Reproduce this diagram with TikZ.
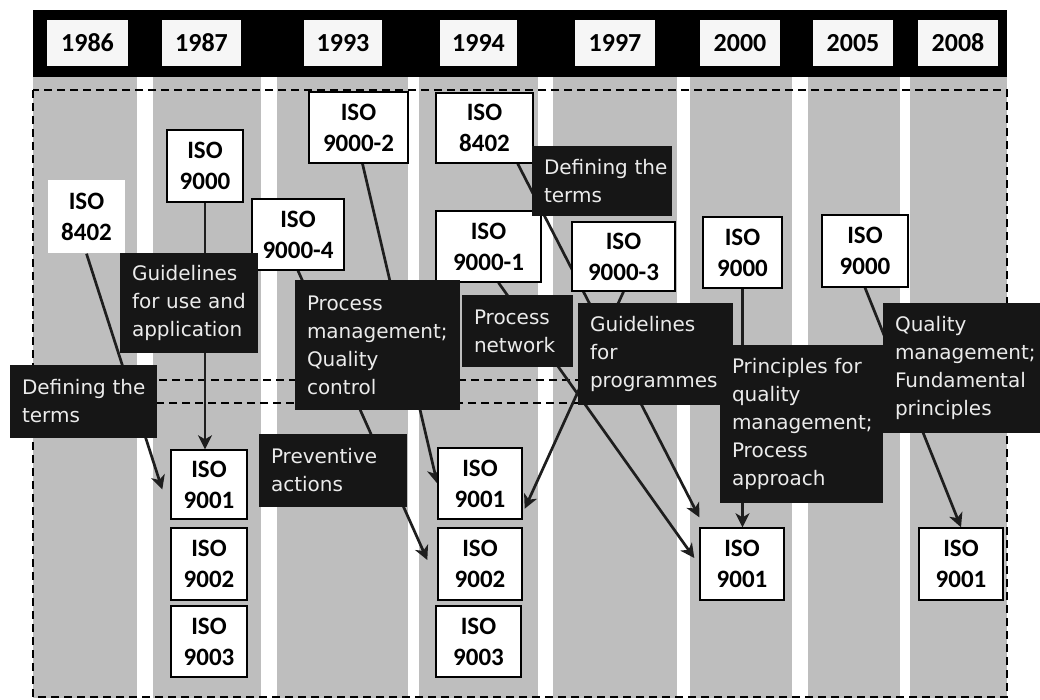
\documentclass[tikz,border=0pt]{standalone}
\usepackage{fontspec}
\setmainfont{Carlito}
\newfontfamily\lblfont{DejaVu Sans}
\usetikzlibrary{arrows.meta,calc}
\pgfdeclarelayer{bgl}
\pgfdeclarelayer{lnl}
\pgfsetlayers{bgl,lnl,main}
\definecolor{colgray}{RGB}{190,190,190}
\definecolor{boxblack}{RGB}{22,22,22}
\definecolor{lncol}{RGB}{30,30,30}
\definecolor{lbltext}{RGB}{235,235,235}
\definecolor{yearfill}{RGB}{246,246,246}
\tikzset{
  isobox/.style={draw=black, line width=1.4pt, fill=white, inner sep=0pt, align=center, font=\fontsize{25}{31}\selectfont\bfseries},
  yearbox/.style={fill=yearfill, inner sep=0pt, font=\fontsize{26}{30}\selectfont\bfseries},
  lblbox/.style={fill=boxblack, text=lbltext, inner xsep=12pt, inner ysep=0pt, align=left, font=\lblfont\fontsize{20}{28}\selectfont},
  conn/.style={draw=lncol, line width=2.7pt, -{Stealth[length=14pt,width=14pt,inset=4pt]}},
  band/.style={draw=black, line width=1.3pt, dash pattern=on 8pt off 5pt},
}
% name, x1, y1, x2, y2, text
\newcommand\isob[7][]{\node[isobox,#1, minimum width={#5-#3}, minimum height={#6-#4}] (#2) at ({(#3+#5)/2},{(#4+#6)/2}) {#7};}
\newcommand\yearb[6]{\node[yearbox, minimum width={#4-#2}, minimum height={#5-#3}] (#1) at ({(#2+#4)/2},{(#3+#5)/2}) {#6};}
% name, x1, y1, x2, y2, textwidth, text
\newcommand\lbx[7]{\node[lblbox, minimum width={#4-#2}, minimum height={#5-#3}, text width=#6pt] (#1) at ({(#2+#4)/2},{(#3+#5)/2}) {#7};}
\begin{document}
\begin{tikzpicture}[x=1pt,y=-1pt]
\useasboundingbox (0,0) rectangle (1040,700);
\begin{pgfonlayer}{bgl}
\fill[white] (0,0) rectangle (1040,700);
\foreach \a/\b in {33/137,153/261,277/408,419/538,553/677,690/792,808/900,910/1007}
  \fill[colgray] (\a,77) rectangle (\b,698);
\fill[black] (33,10) rectangle (1007,77);
\draw[band] (33,90) rectangle (1007,380);
\draw[band] (33,403) rectangle (1007,697);
\end{pgfonlayer}

% years
\yearb{y1986}{47}{20}{128}{66}{1986}
\yearb{y1987}{162}{20}{241}{66}{1987}
\yearb{y1993}{304}{20}{382}{66}{1993}
\yearb{y1994}{440}{20}{517}{66}{1994}
\yearb{y1997}{575}{20}{655}{66}{1997}
\yearb{y2000}{700}{20}{780}{66}{2000}
\yearb{y2005}{813}{20}{893}{66}{2005}
\yearb{y2008}{918}{20}{998}{66}{2008}

% upper ISO boxes
\isob[draw=none]{a8402}{48}{180}{125}{253}{ISO\\8402}
\isob{a9000}{167}{130}{243}{202}{ISO\\9000}
\isob{a90004}{252}{199}{344}{270}{ISO\\9000-4}
\isob{a90002}{309}{92}{408}{163}{ISO\\9000-2}
\isob{b8402}{436}{93}{533}{163}{ISO\\8402}
\isob{b90001}{436}{211}{541}{282}{ISO\\9000-1}
\isob{b90003}{572}{222}{675}{291}{ISO\\9000-3}
\isob{c9000}{703}{217}{782}{288}{ISO\\9000}
\isob{d9000}{822}{215}{908}{287}{ISO\\9000}

% lower ISO boxes
\isob{a9001}{171}{450}{247}{519}{ISO\\9001}
\isob{a9002}{171}{528}{247}{600}{ISO\\9002}
\isob{a9003}{171}{606}{247}{677}{ISO\\9003}
\isob{b9001}{438}{448}{522}{519}{ISO\\9001}
\isob{b9002}{438}{528}{522}{600}{ISO\\9002}
\isob{b9003}{436}{606}{521}{677}{ISO\\9003}
\isob{c9001}{700}{528}{784}{600}{ISO\\9001}
\isob{d9001}{919}{528}{1003}{600}{ISO\\9001}

% connectors
\begin{pgfonlayer}{lnl}
\draw[conn] (a8402.south) -- ($(a9001.west)+(-8,5)$);
\draw[conn] (a9000.south) -- (a9000.south |- a9001.north);
\draw[conn] (a90004.south) -- ($(b9002.west)+(-10,-4)$);
\draw[conn] ($(a90002.south)+(4,0)$) -- (b9001.west);
\draw[conn] ($(b90001.south)+(10,0)$) -- ($(c9001.west)+(-5,-6)$);
\draw[conn] ($(b8402.south east)+(-16,0)$) -- ($(c9001.north west)+(0,-10)$);
\draw[conn] (b90003.south) -- ($(b9001.south east)+(2,-11)$);
\draw[conn] (c9000.south) -- (c9000.south |- c9001.north);
\draw[conn] (d9000.south) -- (d9001.north);
\end{pgfonlayer}

% label boxes
\lbx{lA}{120}{253}{258}{353}{114}{Guidelines\\for~use~and\\application}
\lbx{lB}{10}{365}{157}{438}{123}{Defining~the\\terms}
\lbx{lC}{295}{280}{460}{410}{141}{Process\\management;\\Quality\\control}
\lbx{lD}{462}{295}{573}{367}{87}{Process\\network}
\lbx{lE}{532}{146}{672}{216}{116}{Defining~the\\terms}
\lbx{lF}{578}{303}{733}{405}{131}{Guidelines\\for\\programmes}
\lbx{lG}{720}{345}{883}{503}{139}{Principles~for\\quality\\management;\\Process\\approach}
\lbx{lH}{883}{303}{1040}{433}{133}{Quality\\management;\\Fundamental\\principles}
\lbx{lI}{259}{434}{407}{507}{124}{Preventive\\actions}
\end{tikzpicture}
\end{document}
